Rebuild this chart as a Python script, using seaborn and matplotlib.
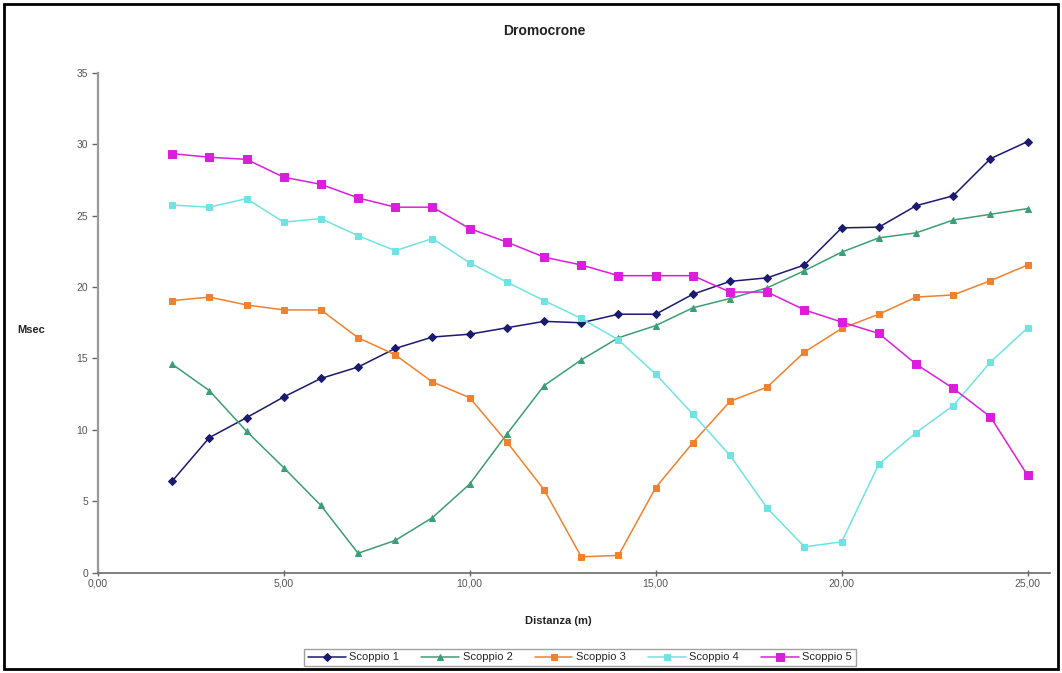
import numpy as np
import pandas as pd
import matplotlib
matplotlib.use("Agg")
import matplotlib.pyplot as plt
from matplotlib.patches import Rectangle
import seaborn as sns

# Shot offsets along the line (m)
distanza = list(range(2, 26))

# First-arrival times (ms) for each shot
scoppio_1 = [6.4, 9.45, 10.85, 12.3, 13.6, 14.4, 15.7, 16.5, 16.7, 17.15, 17.6, 17.5,
             18.1, 18.1, 19.5, 20.4, 20.65, 21.55, 24.15, 24.2, 25.7, 26.4, 29.0, 30.2]
scoppio_2 = [14.6, 12.75, 9.9, 7.35, 4.7, 1.35, 2.25, 3.85, 6.2, 9.7, 13.1, 14.9,
             16.45, 17.3, 18.55, 19.2, 19.95, 21.15, 22.45, 23.45, 23.8, 24.7, 25.1, 25.5]
scoppio_3 = [19.05, 19.3, 18.75, 18.4, 18.4, 16.45, 15.25, 13.35, 12.25, 9.15, 5.8, 1.1,
             1.2, 5.95, 9.1, 12.0, 13.0, 15.45, 17.1, 18.1, 19.3, 19.45, 20.45, 21.55]
scoppio_4 = [25.75, 25.6, 26.2, 24.55, 24.8, 23.6, 22.55, 23.4, 21.7, 20.35, 19.05, 17.8,
             16.3, 13.9, 11.1, 8.2, 4.5, 1.8, 2.15, 7.6, 9.8, 11.7, 14.75, 17.15]
scoppio_5 = [29.35, 29.1, 28.95, 27.7, 27.2, 26.25, 25.6, 25.6, 24.1, 23.15, 22.1, 21.55,
             20.8, 20.8, 20.8, 19.65, 19.65, 18.4, 17.55, 16.75, 14.6, 12.9, 10.9, 6.8]

serie = ["Scoppio 1", "Scoppio 2", "Scoppio 3", "Scoppio 4", "Scoppio 5"]
valori = [scoppio_1, scoppio_2, scoppio_3, scoppio_4, scoppio_5]

df = pd.concat(
    [pd.DataFrame({"Distanza": distanza, "Msec": v, "Serie": s}) for s, v in zip(serie, valori)],
    ignore_index=True,
)

colori = {
    "Scoppio 1": "#1a1a6e",
    "Scoppio 2": "#3c9e74",
    "Scoppio 3": "#f0812e",
    "Scoppio 4": "#6fe3e3",
    "Scoppio 5": "#dc1edc",
}
marcatori = {
    "Scoppio 1": "D",
    "Scoppio 2": "^",
    "Scoppio 3": "s",
    "Scoppio 4": "s",
    "Scoppio 5": "s",
}
dimensioni = {"Scoppio 1": 3.8, "Scoppio 2": 4.5, "Scoppio 3": 5, "Scoppio 4": 3.8, "Scoppio 5": 5.5}

sns.set_theme(style="white")
plt.rcParams["font.family"] = ["Liberation Sans", "DejaVu Sans"]

fig = plt.figure(figsize=(10.62, 6.73), dpi=100)
ax = fig.add_axes([0.092, 0.1493, 0.8967, 0.7422])

for s in serie:
    sub = df[df["Serie"] == s]
    sns.lineplot(
        data=sub, x="Distanza", y="Msec", ax=ax,
        color=colori[s], marker=marcatori[s], markersize=dimensioni[s],
        markeredgecolor=colori[s], linewidth=1.1, label=s,
    )

ax.set_xlim(0, 25.6)
ax.set_ylim(0, 35)
ax.set_xticks([0, 5, 10, 15, 20, 25])
ax.set_xticklabels([f"{v:.2f}".replace(".", ",") for v in [0, 5, 10, 15, 20, 25]])
ax.set_yticks(range(0, 36, 5))

for side in ["top", "right"]:
    ax.spines[side].set_visible(False)
ax.spines["left"].set_color("#9a9a9a")
ax.spines["left"].set_linewidth(1.6)
ax.spines["bottom"].set_color("#6a6a6a")
ax.spines["bottom"].set_linewidth(1.2)

ax.tick_params(axis="y", which="both", left=True, length=4, width=1, color="#666666",
               labelsize=7.5, labelcolor="#555555", pad=3)
ax.tick_params(axis="x", which="both", bottom=True, direction="inout", length=5, width=1,
               color="#666666", labelsize=7.5, labelcolor="#555555", pad=2)

ax.set_xlabel("Distanza (m)", fontsize=8, fontweight="bold", color="#222222")
ax.xaxis.set_label_coords(0.4835, -0.088)
ax.set_ylabel("Msec", fontsize=8, fontweight="bold", color="#222222", rotation=0,
              va="center")
ax.yaxis.set_label_coords(-0.07, 0.485)
fig.text(0.513, 0.954, "Dromocrone", fontsize=10, fontweight="bold", color="#222222",
         ha="center", va="center")

leg = ax.legend(
    loc="center", bbox_to_anchor=(0.5065, -0.17), ncol=5, fontsize=8,
    frameon=True, fancybox=False, edgecolor="#8a8a8a", handlelength=3.4,
    columnspacing=2.0, handletextpad=0.3, borderpad=0.35,
)
leg.get_frame().set_linewidth(1.0)

# Outer frame of the figure
fig.patches.append(Rectangle((0.004, 0.006), 0.992, 0.988, transform=fig.transFigure,
                             fill=False, edgecolor="black", linewidth=2))

fig.savefig("out.png", dpi=100)
